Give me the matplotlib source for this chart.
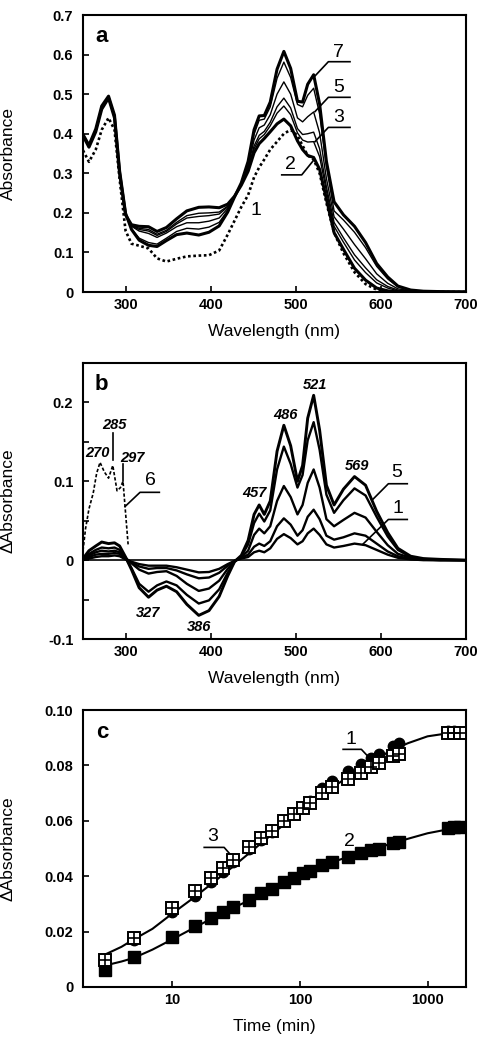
import matplotlib
matplotlib.use("Agg")
import matplotlib.pyplot as plt
from matplotlib.ticker import NullLocator

plt.rcParams['font.family'] = ['Liberation Sans', 'DejaVu Sans']

# ---- panel a / b : spectra on a common wavelength grid (nm)
wl = [250, 257, 265, 272, 280, 287, 293, 300, 307, 316, 327, 337, 348, 360, 372,
      386, 398, 410, 420, 428, 436, 444, 451, 457, 463, 470, 478, 486, 494, 502,
      508, 514, 521, 528, 536, 545, 556, 569, 582, 595, 608, 620, 635, 650, 670, 700]

# absorbance spectra, panel a (1 = dotted, 2..7 = solid)
abs_1 = [0.358, 0.329, 0.360, 0.410, 0.440, 0.410, 0.285, 0.155, 0.122, 0.117, 0.110,
         0.085, 0.077, 0.084, 0.090, 0.092, 0.093, 0.105, 0.145, 0.180, 0.215, 0.245,
         0.290, 0.315, 0.335, 0.360, 0.380, 0.400, 0.410, 0.395, 0.370, 0.345, 0.335,
         0.300, 0.225, 0.150, 0.098, 0.050, 0.020, 0.006, 0.002, 0.0, 0.0, 0.0, 0.0, 0.0]
abs_2 = [0.395, 0.366, 0.405, 0.462, 0.490, 0.440, 0.300, 0.195, 0.170, 0.166, 0.165,
         0.153, 0.163, 0.185, 0.205, 0.214, 0.215, 0.213, 0.222, 0.242, 0.270, 0.305,
         0.352, 0.375, 0.388, 0.405, 0.425, 0.437, 0.420, 0.382, 0.360, 0.345, 0.340,
         0.310, 0.235, 0.150, 0.108, 0.060, 0.030, 0.010, 0.003, 0.0, 0.0, 0.0, 0.0, 0.0]
abs_3 = [0.396, 0.367, 0.407, 0.464, 0.491, 0.442, 0.302, 0.196, 0.168, 0.161, 0.158,
         0.146, 0.156, 0.176, 0.193, 0.199, 0.200, 0.202, 0.217, 0.241, 0.272, 0.309,
         0.362, 0.387, 0.398, 0.420, 0.452, 0.470, 0.448, 0.402, 0.384, 0.379, 0.380,
         0.342, 0.255, 0.166, 0.126, 0.081, 0.049, 0.023, 0.010, 0.003, 0.001, 0.0, 0.0, 0.0]
abs_4 = [0.396, 0.368, 0.408, 0.466, 0.492, 0.444, 0.303, 0.197, 0.167, 0.158, 0.154,
         0.143, 0.153, 0.172, 0.187, 0.191, 0.193, 0.197, 0.215, 0.241, 0.273, 0.312,
         0.369, 0.396, 0.406, 0.429, 0.468, 0.490, 0.465, 0.413, 0.398, 0.400, 0.404,
         0.362, 0.266, 0.176, 0.137, 0.094, 0.061, 0.031, 0.014, 0.005, 0.002, 0.001, 0.0, 0.0]
abs_5 = [0.397, 0.369, 0.409, 0.467, 0.493, 0.445, 0.304, 0.198, 0.166, 0.154, 0.148,
         0.138, 0.149, 0.165, 0.175, 0.175, 0.179, 0.187, 0.211, 0.241, 0.274, 0.317,
         0.384, 0.415, 0.422, 0.448, 0.500, 0.531, 0.500, 0.440, 0.430, 0.443, 0.455,
         0.402, 0.287, 0.190, 0.159, 0.120, 0.084, 0.046, 0.022, 0.008, 0.003, 0.001, 0.0, 0.0]
abs_6 = [0.398, 0.370, 0.410, 0.468, 0.494, 0.446, 0.305, 0.198, 0.160, 0.136, 0.125,
         0.121, 0.136, 0.153, 0.161, 0.159, 0.164, 0.176, 0.206, 0.240, 0.275, 0.325,
         0.399, 0.434, 0.437, 0.468, 0.540, 0.581, 0.542, 0.474, 0.468, 0.497, 0.515,
         0.450, 0.318, 0.205, 0.182, 0.151, 0.112, 0.065, 0.033, 0.013, 0.004, 0.002, 0.001, 0.0]
abs_7 = [0.398, 0.371, 0.412, 0.470, 0.495, 0.447, 0.306, 0.199, 0.158, 0.131, 0.118,
         0.115, 0.130, 0.145, 0.149, 0.144, 0.151, 0.167, 0.202, 0.240, 0.276, 0.330,
         0.410, 0.445, 0.446, 0.480, 0.563, 0.608, 0.565, 0.482, 0.480, 0.525, 0.549,
         0.475, 0.330, 0.228, 0.195, 0.166, 0.125, 0.072, 0.038, 0.015, 0.005, 0.002, 0.001, 0.0]

# difference spectra, panel b (1..5 solid)
diff_1 = [0.000, 0.002, 0.004, 0.005, 0.005, 0.006, 0.005, 0.001, -0.002, -0.005, -0.007,
          -0.007, -0.007, -0.009, -0.012, -0.0155, -0.015, -0.011, -0.005, -0.001, 0.002,
          0.004, 0.010, 0.012, 0.010, 0.015, 0.027, 0.033, 0.028, 0.020, 0.024, 0.034,
          0.040, 0.032, 0.020, 0.016, 0.018, 0.021, 0.019, 0.013, 0.007, 0.003, 0.001, 0.0, 0.0, 0.0]
diff_2 = [0.001, 0.004, 0.007, 0.008, 0.008, 0.009, 0.008, 0.002, -0.003, -0.008, -0.011,
          -0.010, -0.010, -0.013, -0.018, -0.023, -0.022, -0.016, -0.007, -0.001, 0.003,
          0.007, 0.017, 0.021, 0.018, 0.024, 0.043, 0.053, 0.045, 0.031, 0.038, 0.055,
          0.064, 0.052, 0.031, 0.026, 0.029, 0.034, 0.031, 0.021, 0.011, 0.005, 0.0015, 0.0005, 0.0, 0.0]
diff_3 = [0.001, 0.006, 0.010, 0.012, 0.011, 0.012, 0.010, 0.003, -0.004, -0.012, -0.017,
          -0.015, -0.014, -0.020, -0.030, -0.039, -0.036, -0.026, -0.011, -0.001, 0.004,
          0.012, 0.032, 0.040, 0.034, 0.043, 0.075, 0.094, 0.080, 0.058, 0.070, 0.098,
          0.115, 0.092, 0.052, 0.043, 0.051, 0.060, 0.054, 0.036, 0.019, 0.008, 0.003, 0.001, 0.0, 0.0]
diff_4 = [0.002, 0.008, 0.013, 0.016, 0.015, 0.016, 0.013, 0.003, -0.010, -0.030, -0.040,
          -0.032, -0.027, -0.032, -0.044, -0.055, -0.051, -0.037, -0.016, -0.002, 0.005,
          0.020, 0.047, 0.059, 0.049, 0.063, 0.115, 0.144, 0.122, 0.092, 0.108, 0.152,
          0.175, 0.140, 0.083, 0.060, 0.076, 0.091, 0.082, 0.055, 0.030, 0.013, 0.004, 0.0015, 0.0005, 0.0]
diff_5 = [0.002, 0.012, 0.018, 0.023, 0.021, 0.022, 0.018, 0.004, -0.012, -0.035, -0.047,
          -0.038, -0.033, -0.040, -0.056, -0.070, -0.064, -0.046, -0.020, -0.002, 0.006,
          0.025, 0.058, 0.070, 0.058, 0.075, 0.138, 0.171, 0.145, 0.100, 0.120, 0.180,
          0.209, 0.165, 0.095, 0.070, 0.090, 0.106, 0.095, 0.062, 0.035, 0.015, 0.005, 0.002, 0.001, 0.0]

# dotted curve 6 (UV only)
wl_6 = [250, 253, 257, 262, 266, 270, 275, 280, 285, 290, 294, 297, 300, 303]
diff_6 = [0.012, 0.040, 0.065, 0.085, 0.110, 0.124, 0.112, 0.104, 0.120, 0.088, 0.092,
          0.100, 0.060, 0.020]

# ---- panel c : kinetics
time_min = [3, 5, 10, 15, 20, 25, 30, 40, 50, 60, 75, 90, 105, 120, 150, 180, 240,
            300, 360, 420, 540, 600, 1440, 1620, 1800]
kin_1 = [0.0095, 0.017, 0.027, 0.033, 0.038, 0.0415, 0.045, 0.050, 0.053, 0.056, 0.060,
         0.0625, 0.065, 0.067, 0.072, 0.0745, 0.078, 0.0805, 0.0825, 0.084, 0.087, 0.088,
         0.0925, 0.0925, 0.092]
kin_2 = [0.006, 0.011, 0.018, 0.022, 0.025, 0.027, 0.029, 0.0315, 0.034, 0.0355, 0.038,
         0.0393, 0.041, 0.042, 0.044, 0.0453, 0.047, 0.0483, 0.0493, 0.050, 0.052, 0.0523,
         0.0573, 0.0576, 0.0576]
kin_3 = [0.0097, 0.0176, 0.0286, 0.0348, 0.0392, 0.0428, 0.0458, 0.0506, 0.0537, 0.0564,
         0.060, 0.0625, 0.0645, 0.0665, 0.0701, 0.0723, 0.075, 0.0771, 0.0793, 0.0808,
         0.0834, 0.0841, 0.0916, 0.0918, 0.0918]

time_fit = [3, 4, 5, 7, 10, 15, 20, 30, 50, 70, 100, 150, 200, 300, 500, 700, 1000, 1400, 1800]
fit_top = [0.0118, 0.0145, 0.0172, 0.021, 0.0265, 0.0325, 0.037, 0.0435, 0.052, 0.0575,
           0.0635, 0.0695, 0.0735, 0.079, 0.085, 0.088, 0.0905, 0.0915, 0.092]
fit_bot = [0.0078, 0.0092, 0.0105, 0.0135, 0.0172, 0.0215, 0.0245, 0.0285, 0.0335, 0.0368,
           0.040, 0.0435, 0.0458, 0.0485, 0.0515, 0.0535, 0.0555, 0.0568, 0.0575]

wl_ticks = [300, 400, 500, 600, 700]
a_yticks = [0, 0.1, 0.2, 0.3, 0.4, 0.5, 0.6, 0.7]
a_ylabels = ['0', '0.1', '0.2', '0.3', '0.4', '0.5', '0.6', '0.7']
b_yticks = [-0.1, 0, 0.1, 0.2]
b_ylabels = ['-0.1', '0', '0.1', '0.2']
c_xticks = [10, 100, 1000]
c_yticks = [0, 0.02, 0.04, 0.06, 0.08, 0.10]
c_ylabels = ['0', '0.02', '0.04', '0.06', '0.08', '0.10']

fig = plt.figure(figsize=(4.82, 10.5), dpi=100)
ax_a = fig.add_axes([0.1722, 0.7219, 0.7946, 0.2638])
ax_b = fig.add_axes([0.1722, 0.3914, 0.7946, 0.2629])
ax_c = fig.add_axes([0.1722, 0.0600, 0.7946, 0.2638])


def style(ax):
    for s in ax.spines.values():
        s.set_linewidth(1.5)
    ax.tick_params(which='both', direction='in', length=4, width=1.2,
                   top=False, right=False, labelsize=10.5)
    ax.tick_params(axis='x', pad=4)
    ax.tick_params(axis='y', pad=7)
    for lab in ax.get_xticklabels() + ax.get_yticklabels():
        lab.set_fontweight('bold')


# ---- panel a
ax_a.plot(wl, abs_1, color='black', lw=1.9, ls=(0, (1, 1)))
ax_a.plot(wl, abs_2, color='black', lw=2.2)
for y in (abs_3, abs_4, abs_5, abs_6):
    ax_a.plot(wl, y, color='black', lw=1.0)
ax_a.plot(wl, abs_7, color='black', lw=2.2)
ax_a.set_xlim(250, 700)
ax_a.set_ylim(0, 0.7)
ax_a.set_xticks(wl_ticks)
ax_a.set_yticks(a_yticks)
ax_a.set_yticklabels(a_ylabels)
ax_a.set_xlabel('Wavelength (nm)', fontsize=12.5)
ax_a.set_ylabel('Absorbance', fontsize=12.5)
ax_a.xaxis.set_label_coords(0.5, -0.115)
ax_a.yaxis.set_label_coords(-0.175, 0.5)
style(ax_a)
ax_a.text(272, 0.645, 'a', fontsize=16, fontweight='bold', ha='center', va='center')
for num, y0, y1 in (('7', 0.546, 0.582), ('5', 0.456, 0.492), ('3', 0.380, 0.416)):
    ax_a.plot([522.6, 538.3, 563.7], [y0, y1, y1], color='black', lw=1.2)
    ax_a.text(550, y1 + 0.024, num, fontsize=14, ha='center', va='center')
ax_a.plot([483.5, 507, 520.6], [0.296, 0.296, 0.332], color='black', lw=1.2)
ax_a.text(494, 0.323, '2', fontsize=14, ha='center', va='center')
ax_a.text(453, 0.205, '1', fontsize=14, ha='center', va='center')

# ---- panel b
ax_b.axhline(0, color='black', lw=1.2)
ax_b.plot(wl_6, diff_6, color='black', lw=1.2, ls=(0, (2, 1.2)))
for y in (diff_1, diff_2, diff_3, diff_4):
    ax_b.plot(wl, y, color='black', lw=1.7)
ax_b.plot(wl, diff_5, color='black', lw=2.1)
ax_b.set_xlim(250, 700)
ax_b.set_ylim(-0.1, 0.25)
ax_b.set_xticks(wl_ticks)
ax_b.set_yticks(b_yticks)
ax_b.set_yticklabels(b_ylabels)
ax_b.set_yticks([-0.05, 0.05, 0.15], minor=True)
ax_b.set_xlabel('Wavelength (nm)', fontsize=12.5)
ax_b.set_ylabel('\u0394Absorbance', fontsize=12.5)
ax_b.xaxis.set_label_coords(0.5, -0.115)
ax_b.yaxis.set_label_coords(-0.175, 0.5)
style(ax_b)
ax_b.text(272, 0.2226, 'b', fontsize=16, fontweight='bold', ha='center', va='center')
peak_font = dict(fontsize=10.5, fontweight='bold', style='italic', ha='center', va='center')
for txt, x, y in (('270', 267, 0.1355), ('285', 287, 0.172), ('297', 308, 0.130),
                  ('457', 452, 0.085), ('486', 488, 0.184), ('521', 522.6, 0.222),
                  ('569', 572, 0.1195), ('327', 326.7, -0.0667), ('386', 386.3, -0.0847)):
    ax_b.text(x, y, txt, **peak_font)
ax_b.plot([285, 285], [0.161, 0.127], color='black', lw=1.2)
ax_b.plot([296.6, 296.6], [0.122, 0.100], color='black', lw=1.2)
ax_b.plot([299.4, 317, 339.7], [0.068, 0.086, 0.086], color='black', lw=1.2)
ax_b.text(329, 0.101, '6', fontsize=14, ha='center', va='center')
ax_b.plot([591, 608.8, 631], [0.0776, 0.0969, 0.0969], color='black', lw=1.2)
ax_b.text(619, 0.111, '5', fontsize=14, ha='center', va='center')
ax_b.plot([578.6, 608.8, 631], [0.020, 0.0516, 0.0516], color='black', lw=1.2)
ax_b.text(620.5, 0.066, '1', fontsize=14, ha='center', va='center')

# ---- panel c
ax_c.plot(time_fit, fit_top, color='black', lw=1.5, zorder=2)
ax_c.plot(time_fit, fit_bot, color='black', lw=1.5, zorder=2)
ax_c.plot(time_min, kin_1, 'o', color='black', ms=7.5, zorder=3)
ax_c.plot(time_min, kin_2, 's', color='black', ms=8, zorder=3)
ax_c.plot(time_min, kin_3, 's', mfc='white', mec='black', mew=1.4, ms=8.5, zorder=4)
ax_c.plot(time_min, kin_3, '+', color='black', mew=1.2, ms=8.5, zorder=5)
ax_c.set_xscale('log')
ax_c.set_xlim(2, 2000)
ax_c.set_ylim(0, 0.1)
ax_c.set_xticks(c_xticks)
ax_c.set_xticklabels([str(v) for v in c_xticks])
ax_c.xaxis.set_minor_locator(NullLocator())
ax_c.set_yticks(c_yticks)
ax_c.set_yticklabels(c_ylabels)
ax_c.set_xlabel('Time (min)', fontsize=12.5)
ax_c.set_ylabel('\u0394Absorbance', fontsize=12.5)
ax_c.xaxis.set_label_coords(0.5, -0.115)
ax_c.yaxis.set_label_coords(-0.175, 0.5)
style(ax_c)
ax_c.text(2.83, 0.0918, 'c', fontsize=16, fontweight='bold', ha='center', va='center')
ax_c.plot([218, 303, 352], [0.0858, 0.0858, 0.0826], color='black', lw=1.2)
ax_c.text(253, 0.0894, '1', fontsize=14, ha='center', va='center')
ax_c.plot([17.8, 25.5, 29.2], [0.0504, 0.0504, 0.0473], color='black', lw=1.2)
ax_c.text(20.8, 0.0543, '3', fontsize=14, ha='center', va='center')
ax_c.text(245, 0.0525, '2', fontsize=14, ha='center', va='center')

fig.savefig('out.png', dpi=100)
